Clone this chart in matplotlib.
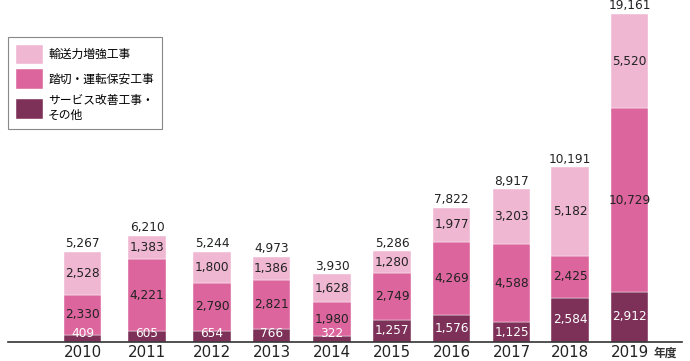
import numpy as np
import matplotlib
matplotlib.use('Agg')
import matplotlib.pyplot as plt

plt.rcParams['font.family'] = ['DejaVu Sans', 'Noto Sans CJK JP']

years = ['2010', '2011', '2012', '2013', '2014', '2015', '2016', '2017', '2018', '2019']
service = [409, 605, 654, 766, 322, 1257, 1576, 1125, 2584, 2912]
crossing = [2330, 4221, 2790, 2821, 1980, 2749, 4269, 4588, 2425, 10729]
transport = [2528, 1383, 1800, 1386, 1628, 1280, 1977, 3203, 5182, 5520]
totals = [5267, 6210, 5244, 4973, 3930, 5286, 7822, 8917, 10191, 19161]

labels = ['輸送力増強工事', '踏切・運転保安工事', 'サービス改善工事・\nその他']
c_light = '#EFB7D2'
c_mid = '#DB659C'
c_dark = '#7E3158'

W, H = 690, 361
fig = plt.figure(figsize=(W / 100, H / 100), dpi=100)
base_px = 341.7
ax = fig.add_axes([8 / W, (H - base_px) / H, (682 - 8) / W, base_px / H])

# bar centres in pixel units (layout)
x = np.array([82.5, 147, 212, 271.5, 332, 392, 451.5, 511.5, 570, 629.5])
service = np.array(service)
crossing = np.array(crossing)
transport = np.array(transport)

bw = 37.5
b1 = ax.bar(x, service, bw, color=c_dark, edgecolor='white', linewidth=0.3)
b2 = ax.bar(x, crossing, bw, bottom=service, color=c_mid, edgecolor='white', linewidth=0.3)
b3 = ax.bar(x, transport, bw, bottom=service + crossing, color=c_light, edgecolor='white', linewidth=0.3)

px_per_unit = (base_px - 14) / 19161
ax.set_ylim(0, base_px / px_per_unit)
ax.set_xlim(8, 682)

fs = 8.7
for i in range(len(years)):
    ax.text(x[i], max(service[i] / 2, 480), f'{service[i]:,}', ha='center', va='center',
            color='white', fontsize=fs)
    ax.text(x[i], service[i] + crossing[i] / 2, f'{crossing[i]:,}', ha='center', va='center',
            color='#222222', fontsize=fs)
    ax.text(x[i], service[i] + crossing[i] + transport[i] / 2, f'{transport[i]:,}', ha='center',
            va='center', color='#222222', fontsize=fs)
    ax.annotate(f'{totals[i]:,}', (x[i], service[i] + crossing[i] + transport[i]),
                xytext=(0, 1.2), textcoords='offset points', ha='center', va='bottom',
                color='#222222', fontsize=fs)

for s in ['top', 'left', 'right']:
    ax.spines[s].set_visible(False)
ax.spines['bottom'].set_color('#333333')
ax.spines['bottom'].set_linewidth(1.2)
ax.set_yticks([])
ax.set_xticks(x)
ax.set_xticklabels(years, fontsize=10.8, color='#222222')
ax.tick_params(axis='x', length=0, pad=2.5)

fig.text(654 / W, 1 - 353 / H, '年度', fontsize=8.5, fontweight='bold', color='#333333',
         va='center', ha='left', family=['Noto Sans CJK JP'])

leg = ax.legend([b3, b2, b1], labels, loc='upper left',
                bbox_to_anchor=(8 / W, 1 - 37 / H), bbox_transform=fig.transFigure,
                fancybox=False, edgecolor='#888888', framealpha=1,
                prop={'family': 'Noto Sans CJK JP', 'size': 8.5},
                handlelength=2.3, handleheight=2.2, labelspacing=0.4,
                handletextpad=0.45, borderpad=0.65, borderaxespad=0)
leg.get_frame().set_linewidth(0.8)

fig.savefig('out.png', dpi=100)
